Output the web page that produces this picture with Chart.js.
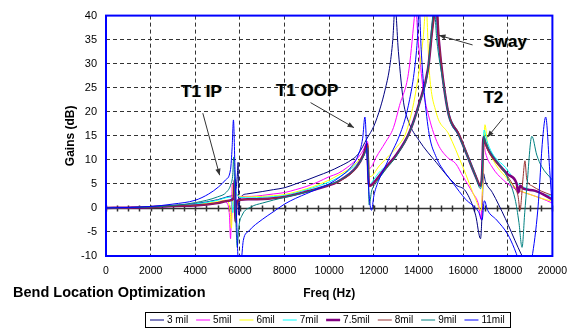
<!DOCTYPE html>
<html>
<head>
<meta charset="utf-8">
<script src="https://cdn.jsdelivr.net/npm/chart.js@4.4.1/dist/chart.umd.min.js"></script>
<style>
  html, body { margin: 0; padding: 0; background: #fff; }
</style>
</head>
<body>
<canvas id="chart" width="576" height="330"></canvas>
<script>
// gain curves: [freq (Hz), gain (dB)]
const mil3 = [[0,0],[1000,0.05],[2000,0.2],[3000,0.45],[4000,0.9],[5000,1.7],[5500,2.4],[5800,3.4],[5880,6.5],[5920,9.5],[5950,-1.5],[6000,1.8],[6300,2.9],[7000,3.4],[7500,3.8],[8000,4.2],[8500,5.0],[9000,5.8],[9500,6.7],[10000,7.6],[10500,8.7],[11000,10.0],[11300,11.2],[11700,14.5],[12000,17],[12300,21],[12500,24.5],[12700,29],[12850,35],[12950,42],[13100,32.5],[13330,22],[13550,18],[14030,14],[14790,9.5],[15670,4.8],[16110,3.5],[16560,-1.5],[16780,-6.4],[16850,-1],[16910,7.2],[17000,5.5],[17310,3.2],[17890,-2.2],[18460,-8.2],[18700,-10.5],[19200,-14],[20000,-13]];
const mil5 = [[0,0],[1000,0.05],[2000,0.2],[3000,0.45],[4000,0.6],[5000,1.1],[5300,1.3],[5450,0.8],[5530,-1.5],[5580,-6.4],[5620,-0.5],[5660,5.0],[5720,3.6],[5850,2.7],[6000,2.4],[6500,2.4],[7000,2.6],[7500,2.9],[8000,3.2],[8500,3.8],[9000,4.5],[9500,5.4],[10000,6.5],[10400,7.2],[10800,8.4],[11200,10],[11500,11.8],[11720,13.8],[11790,8.2],[11900,8.6],[12100,10.5],[12500,13.5],[12880,16.7],[13150,21.3],[13550,28],[13810,39.4],[13860,42],[13990,34.7],[14210,24.7],[14480,18.7],[14870,13.3],[15300,10.5],[15670,9.2],[16000,6.5],[16420,3.2],[16700,0.5],[16800,-2.4],[16860,3],[16930,13.3],[17000,11.5],[17300,8.5],[17800,5.8],[18400,3.8],[19000,2.8],[19500,2.0],[20000,1.0]];
const mil6 = [[0,0],[1000,0.05],[2000,0.2],[3000,0.45],[4000,0.7],[5000,1.3],[5350,1.6],[5500,1.0],[5570,-1],[5620,-4.2],[5660,0.5],[5700,5.0],[5780,3.6],[5900,2.6],[6200,2.3],[7000,2.4],[8000,2.8],[9000,4.0],[10000,5.8],[10400,6.8],[10800,7.8],[11200,9.3],[11500,11],[11740,13.2],[11800,6.5],[11950,6.8],[12200,8.5],[12600,10.5],[13000,12.5],[13460,15.9],[13900,24.7],[14210,35.3],[14340,42],[14480,28.7],[14790,19.9],[15360,15.3],[15980,8.6],[16560,1.8],[16800,-0.5],[16870,4],[16980,17.3],[17100,13],[17400,9.5],[17900,6.5],[18400,4.0],[19000,2.8],[19500,2.0],[20000,1.4]];
const mil7 = [[0,0],[1000,0.05],[2000,0.2],[3000,0.5],[4000,0.8],[5000,1.6],[5500,2.2],[5620,2.0],[5680,-1],[5730,1],[5780,4.2],[5850,3.0],[6000,2.2],[6500,2.1],[7000,2.2],[8000,2.6],[9000,3.8],[10000,5.4],[10400,6.3],[10800,7.5],[11200,9.0],[11500,10.6],[11720,12.6],[11790,4.8],[11950,5.6],[12200,7.2],[12600,9.0],[13000,11.2],[13590,15.9],[14030,21.9],[14430,29.3],[14650,38.7],[14720,42],[14870,34.7],[15100,26.7],[15360,19.8],[15800,15.6],[16110,12.2],[16560,7.0],[16780,4.4],[16850,7],[16940,16.2],[17050,14.2],[17300,11.4],[17900,8.4],[18460,5.0],[19000,3.8],[19500,3.0],[20000,2.4]];
const mil75 = [[0,0],[1000,0.05],[2000,0.15],[3000,0.4],[4000,0.5],[5000,1.0],[5500,1.5],[5720,2.0],[5760,5.8],[5800,-2.8],[5840,0.5],[5900,1.5],[6000,1.7],[6500,1.8],[7260,1.9],[8000,2.3],[9000,3.4],[9920,4.6],[10360,5.4],[11240,8.6],[11550,11.2],[11700,13.3],[11780,4.6],[11900,4.8],[12100,5.8],[12570,8.6],[13000,11.0],[13590,15.7],[14030,21.7],[14430,29.0],[14650,38.5],[14800,42],[14900,35.5],[15100,26.7],[15360,19.3],[15800,15.3],[16110,11.8],[16560,6.6],[16780,4.6],[16850,7],[16910,14.7],[17000,13.5],[17200,11.5],[17600,9.0],[18000,7.0],[18400,5.0],[18470,3.2],[18560,4.6],[18700,4.0],[19200,3.6],[20000,1.8]];
const mil8 = [[0,0],[1000,0.05],[2000,0.15],[3000,0.4],[4000,0.5],[5000,1.0],[5500,1.5],[5740,2.0],[5780,6.0],[5820,-3.0],[5860,0.5],[5950,1.5],[6500,1.8],[7260,1.9],[8000,2.3],[9000,3.3],[10000,4.8],[10400,5.4],[11240,8.4],[11550,11.0],[11720,13.0],[11790,4.4],[11900,4.6],[12100,5.6],[12570,8.4],[13000,10.8],[13590,15.5],[14030,21.5],[14430,28.8],[14650,38],[14820,42],[14920,35],[15100,27],[15360,19.6],[15800,15.6],[16110,12],[16560,6.8],[16780,4.8],[16850,7.2],[16920,14.5],[17000,13.2],[17200,11.2],[17600,8.8],[18000,6.5],[18300,4.2],[18460,2.5],[18550,-0.4],[18680,6],[18770,9.8],[18850,6],[19080,4.6],[19500,3.5],[20000,2.6]];
const mil9 = [[0,0],[1000,0.05],[2000,0.2],[3000,0.5],[4000,1.1],[5000,2.3],[5400,3.3],[5600,5.0],[5680,7.0],[5720,10.6],[5780,2.0],[5830,-4],[5880,-8.2],[5950,-4],[6100,-1.5],[6500,0.2],[7000,1.0],[8000,2.2],[9000,3.3],[10000,4.9],[10400,5.6],[11200,8.4],[11550,10.8],[11720,12.5],[11790,0.6],[11900,3.5],[12100,5.2],[12570,8.2],[13000,10.7],[13590,15.6],[14030,21.5],[14430,29.0],[14600,38],[14700,42],[14820,35],[15100,26.2],[15360,19.0],[15800,15.0],[16110,11.6],[16560,6.4],[16780,4.0],[16850,6.5],[16930,15.0],[17000,13.8],[17200,11.8],[17600,9.2],[17890,7.2],[18330,1.8],[18500,-3],[18640,-8.2],[18760,-1],[18860,4.6],[19080,14.9],[19300,11],[19520,8.6],[20000,5.8]];
const mil11 = [[0,0],[1000,0.1],[2000,0.3],[3000,0.8],[4000,1.6],[4600,2.9],[5050,4.4],[5350,5.8],[5580,8.0],[5650,12.5],[5710,18.3],[5780,8],[5850,-2],[5930,-11],[6050,-11],[6150,-6.8],[6400,-4.8],[7000,-2.4],[7500,-0.8],[8000,0.8],[8500,2.0],[9000,3.0],[9500,4.0],[10000,5.0],[10500,6.5],[11000,8.6],[11300,11],[11500,14.5],[11600,18.9],[11700,10],[11800,2],[11900,-0.5],[12000,2.5],[12200,5.5],[12500,8.5],[12800,11.5],[13100,14.5],[13400,18.5],[13600,22.5],[13800,28],[13950,35],[14030,42],[14120,33],[14260,24],[14480,15.3],[14800,10.5],[15200,7.3],[15540,5.2],[16110,1.8],[16690,-0.8],[16850,-2.5],[16950,1.5],[17100,-0.5],[17500,-2.5],[18000,-5.5],[18300,-8.5],[18460,-10.5],[18700,-14],[19000,-12],[19080,-10.5],[19350,-0.2],[19570,14.7],[19700,18.9],[19880,7.8],[20000,-0.2]];

const series = [mil3, mil5, mil6, mil7, mil75, mil8, mil9, mil11];
const seriesLabels = ["3 mil", "5mil", "6mil", "7mil", "7.5mil", "8mil", "9mil", "11mil"];
const seriesColors = ["#000080", "#ff00ff", "#ffff00", "#00ffff", "#800080", "#993333", "#008080", "#0000ff"];
const seriesWidths = [1, 1, 1, 1, 2.5, 1, 1, 1];

// callouts: label anchor (left, baseline) and arrow tail -> head, in data units
const notes = [
  { text: "T1 IP", at: [3365, 23.1], from: [4338, 19.7], to: [5091, 6.8] },
  { text: "T1 OOP", at: [7615, 23.3], from: [9164, 21.9], to: [11112, 16.7] },
  { text: "Sway", at: [16910, 33.5], from: [16424, 33.9], to: [14919, 35.9] },
  { text: "T2", at: [16910, 21.9], from: [17797, 18.7], to: [17088, 14.7] },
];

const FONT = "Arial, 'Liberation Sans', sans-serif";

function arrow(ctx, x1, y1, x2, y2) {
  const ang = Math.atan2(y2 - y1, x2 - x1);
  ctx.beginPath();
  ctx.moveTo(x1, y1);
  ctx.lineTo(x2, y2);
  ctx.stroke();
  ctx.beginPath();
  ctx.moveTo(x2, y2);
  ctx.lineTo(x2 - 7 * Math.cos(ang - 0.38), y2 - 7 * Math.sin(ang - 0.38));
  ctx.lineTo(x2 - 7 * Math.cos(ang + 0.38), y2 - 7 * Math.sin(ang + 0.38));
  ctx.closePath();
  ctx.fill();
}

const extras = {
  id: "extras",
  beforeDatasetsDraw(chart) {
    // x axis crosses at 0 dB, with minor ticks every 500 Hz
    const { ctx, chartArea: a, scales: { x, y } } = chart;
    const y0 = Math.round(y.getPixelForValue(0)) + 0.5;
    ctx.save();
    ctx.strokeStyle = "#333";
    ctx.lineWidth = 1.5;
    ctx.beginPath();
    ctx.moveTo(a.left, y0);
    ctx.lineTo(a.right, y0);
    for (let f = 0; f <= 20000; f += 500) {
      const px = Math.round(x.getPixelForValue(f)) + 0.5;
      ctx.moveTo(px, y0 - 3);
      ctx.lineTo(px, y0 + 3);
    }
    ctx.stroke();
    ctx.restore();
  },
  afterDatasetsDraw(chart) {
    const { ctx, chartArea: a, scales: { x, y } } = chart;
    ctx.save();
    // plot frame
    ctx.strokeStyle = "#0000ff";
    ctx.lineWidth = 2;
    ctx.strokeRect(a.left, a.top, a.right - a.left, a.bottom - a.top);

    // callouts
    ctx.strokeStyle = "#333";
    ctx.fillStyle = "#333";
    ctx.lineWidth = 1;
    notes.forEach((n) => {
      arrow(ctx, x.getPixelForValue(n.from[0]), y.getPixelForValue(n.from[1]),
        x.getPixelForValue(n.to[0]), y.getPixelForValue(n.to[1]));
    });
    ctx.font = "bold 17px " + FONT;
    ctx.textBaseline = "alphabetic";
    ctx.textAlign = "left";
    notes.forEach((n) => {
      const px = x.getPixelForValue(n.at[0]);
      const py = y.getPixelForValue(n.at[1]);
      ctx.fillStyle = "rgba(230,140,20,0.55)";
      ctx.fillText(n.text, px - 0.8, py);
      ctx.fillStyle = "rgba(40,150,230,0.55)";
      ctx.fillText(n.text, px + 0.8, py);
      ctx.fillStyle = "#000";
      ctx.fillText(n.text, px, py);
    });

    // bottom-left caption
    ctx.font = "bold 14.5px " + FONT;
    ctx.fillStyle = "#000";
    ctx.fillText("Bend Location Optimization", 13, 297);

    // legend box
    ctx.font = "10px " + FONT;
    const lineLen = 14, gap = 3, space = 8, padX = 5;
    const widths = seriesLabels.map((l) => ctx.measureText(l).width);
    let total = padX * 2 + space * (seriesLabels.length - 1);
    widths.forEach((w) => { total += lineLen + gap + w; });
    const boxTop = 312, boxH = 15;
    let cx = Math.round(327 - total / 2);
    ctx.strokeStyle = "#000";
    ctx.lineWidth = 1;
    ctx.strokeRect(cx + 0.5, boxTop + 0.5, Math.round(total), boxH);
    cx += padX;
    const midY = boxTop + boxH / 2 + 0.5;
    ctx.textBaseline = "middle";
    seriesLabels.forEach((l, i) => {
      ctx.strokeStyle = seriesColors[i];
      ctx.lineWidth = seriesWidths[i] > 1 ? 2.5 : 1;
      ctx.beginPath();
      ctx.moveTo(cx, midY);
      ctx.lineTo(cx + lineLen, midY);
      ctx.stroke();
      ctx.fillStyle = "#000";
      ctx.fillText(l, cx + lineLen + gap, midY + 0.5);
      cx += lineLen + gap + widths[i] + space;
    });
    ctx.restore();
  },
};

new Chart(document.getElementById("chart"), {
  type: "line",
  data: {
    datasets: series.map((s, i) => ({
      label: seriesLabels[i],
      data: s.map(([f, g]) => ({ x: f, y: g })),
      borderColor: seriesColors[i],
      borderWidth: seriesWidths[i],
      pointRadius: 0,
      fill: false,
      cubicInterpolationMode: "monotone",
      order: series.length - i, // later series on top, like the original
    })),
  },
  options: {
    responsive: false,
    animation: false,
    layout: { padding: { top: 7, right: 18, left: 0, bottom: 0 } },
    plugins: { legend: { display: false }, tooltip: { enabled: false } },
    scales: {
      x: {
        type: "linear",
        min: 0,
        max: 20000,
        ticks: {
          stepSize: 2000,
          padding: 9,
          maxRotation: 0,
          autoSkip: false,
          color: "#000",
          font: { family: FONT, size: 10.5 },
          callback: (v) => String(v),
        },
        grid: { color: "#333", lineWidth: 1, drawTicks: false },
        border: { display: false, dash: [4, 3] },
        title: {
          display: true,
          text: "Freq (Hz)",
          color: "#000",
          font: { family: FONT, size: 12, weight: "bold" },
          padding: { top: 0, bottom: 29 },
        },
        afterFit: (s) => { s.height = 74; },
      },
      y: {
        min: -10,
        max: 40,
        ticks: {
          stepSize: 5,
          padding: 9,
          color: "#000",
          font: { family: FONT, size: 11 },
        },
        grid: {
          color: (c) => (c.tick && c.tick.value === 0 ? "rgba(0,0,0,0)" : "#333"),
          lineWidth: 1,
          drawTicks: false,
        },
        border: { display: false, dash: [4, 3] },
        title: {
          display: true,
          text: "Gains (dB)",
          color: "#000",
          font: { family: FONT, size: 12, weight: "bold" },
          padding: { top: 63, bottom: 0 },
        },
        afterFit: (s) => { s.width = 106; },
      },
    },
  },
  plugins: [extras],
});
</script>
</body>
</html>
